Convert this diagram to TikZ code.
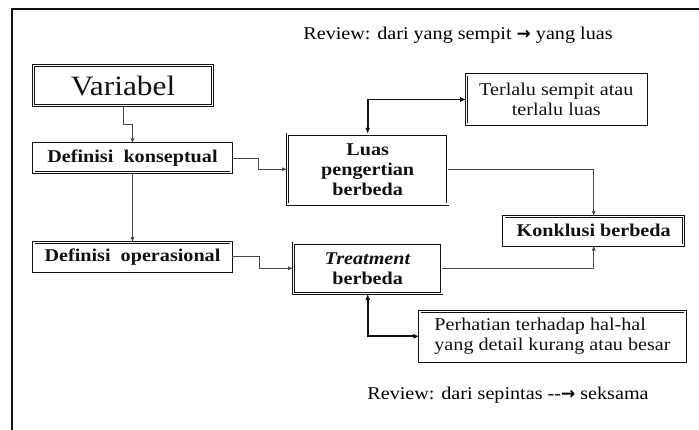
\documentclass[tikz,border=0pt]{standalone}
\usepackage{fontspec}
\setmainfont{Liberation Serif}[FakeStretch=1.12]
\newfontfamily\arrowfont{DejaVu Sans}
\usetikzlibrary{arrows.meta,positioning}
\definecolor{frameInk}{HTML}{111111}
\definecolor{lineGrey}{HTML}{4A4A4A}
\newcommand{\bigarrow}{{\arrowfont\bfseries\fontsize{17}{20}\selectfont →}}

\begin{document}
\begin{tikzpicture}[
  x=1pt,y=-1pt,
  font=\fontsize{18}{20}\selectfont,
  box/.style={draw=frameInk,double=white,double distance=1.5pt,line width=0.8pt,inner sep=2pt,align=center,text=frameInk},
  arr/.style={-{Latex[length=5pt,width=4pt]},line width=0.8pt,lineGrey},
  biarr/.style={{Latex[length=6pt,width=5pt]}-{Latex[length=6pt,width=5pt]},line width=1.8pt,frameInk}
]
  \useasboundingbox (0,0) rectangle (699,430);
  \draw[line width=2pt,frameInk] (11.5,430) -- (11.5,9.5) -- (699,9.5);

  \node[anchor=base] (revtop) at (458,39.5) {Review: dari yang sempit \bigarrow\ yang luas};

  \node[box,minimum width=179pt,minimum height=40pt,font=\fontsize{28}{30}\selectfont] (var) at (123,85.7) {Variabel};
  \node[box,minimum width=197.4pt,minimum height=28.7pt,font=\fontsize{18}{20}\selectfont\bfseries] (konsep) at (132.5,158.2) {Definisi\ \ konseptual};
  \node[box,minimum width=197.4pt,minimum height=28.7pt,font=\fontsize{18}{20}\selectfont\bfseries] (opera) at (132.5,256.9) {Definisi\ \ operasional};
  \node[box,minimum width=160.3pt,minimum height=70pt,font=\fontsize{18}{20}\selectfont\bfseries] (luas) at (367.7,169.2) {Luas\\pengertian\\berbeda};
  \node[box,minimum width=179.7pt,minimum height=49.4pt] (sempit) at (556.3,99.5) {Terlalu sempit atau\\terlalu luas};
  \node[box,minimum width=179.7pt,minimum height=28.7pt,font=\fontsize{18}{20}\selectfont\bfseries] (konklusi) at (593.7,230.8) {Konklusi berbeda};
  \node[box,minimum width=148.3pt,minimum height=50.3pt,font=\fontsize{18}{20}\selectfont\bfseries] (treat) at (367.7,268.3) {\textit{Treatment}\\berbeda};
  \node[box,minimum width=265.4pt,minimum height=49.7pt,align=left] (detail) at (552.5,336.3) {Perhatian terhadap hal-hal\\yang detail kurang atau besar};

  \node[anchor=base] (revbot) at (508,399.5) {Review: dari sepintas -{}-\bigarrow\ seksama};

  \draw[arr] (var.south) -- ++(0,18) -| (konsep.north);
  \draw[arr] (konsep.south) -- (opera.north);
  \draw[arr] (konsep.east) -- ++(27,0) |- (luas.west);
  \draw[arr] (opera.east) -- ++(28,0) |- (treat.west);
  \draw[arr] (luas.east) -| (konklusi.north);
  \draw[arr] (treat.east) -| (konklusi.south);
  \draw[biarr] (luas.north) |- (sempit.west);
  \draw[biarr] (treat.south) |- (detail.west);
\end{tikzpicture}
\end{document}
